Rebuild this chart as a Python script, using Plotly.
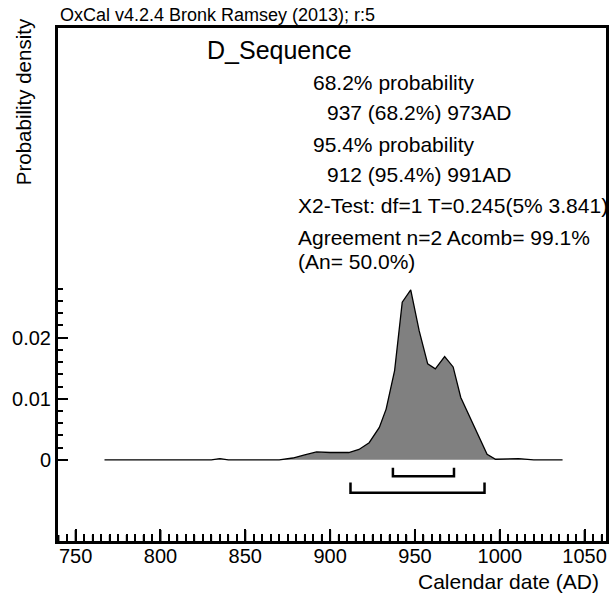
import plotly.graph_objects as go

# Posterior density for the D_Sequence model (calendar years AD)
years = [767, 830, 835, 840, 870, 878, 885, 892, 900, 911, 917, 923, 929, 933,
         938, 942.5, 947.5, 952.5, 957.5, 962, 967.5, 972.5, 977, 983, 988,
         992.5, 997.5, 1005, 1011, 1020, 1037]
density = [0, 0, 0.0002, 0, 0, 0.0003, 0.0008, 0.0013, 0.0012, 0.0012, 0.0017,
           0.0028, 0.0053, 0.0083, 0.0146, 0.0258, 0.0278, 0.0211, 0.0157,
           0.0149, 0.0169, 0.0152, 0.0102, 0.0067, 0.0037, 0.0009, 0.0001,
           0.0001, 0.0002, 0, 0]

# Highest posterior density ranges
range_68 = [937, 973]
range_95 = [912, 991]

x_ticks = [750, 800, 850, 900, 950, 1000, 1050]
x_minor = [y for y in range(740, 1065, 5) if y % 50 != 0]
y_ticks = [0, 0.01, 0.02]
y_tick_text = ["0", "0.01", "0.02"]
y_minor = [0.002 * i for i in range(1, 15) if i % 5 != 0]

FONT = "Liberation Sans, Arial, sans-serif"
L, R, T, B = 58, 4, 28, 54
W, H = 613, 595
PW, PH = W - L - R, H - T - B
X_RANGE = [739.6, 1062.6]
Y_RANGE = [-0.01328, 0.07066]
Y_PER_PX = (Y_RANGE[1] - Y_RANGE[0]) / PH


def px(x):
    return (x - L) / PW


def py(y):
    return (H - B - y) / PH


fig = go.Figure()

fig.add_trace(go.Scatter(
    x=years, y=density, mode="lines", fill="tozeroy",
    fillcolor="#808080", line=dict(color="black", width=1.3),
    hoverinfo="skip", showlegend=False))


def bracket(rng, y_bar, y_tip):
    return go.Scatter(
        x=[rng[0], rng[0], rng[1], rng[1]],
        y=[y_tip, y_bar, y_bar, y_tip],
        mode="lines", line=dict(color="black", width=2.5),
        hoverinfo="skip", showlegend=False)


fig.add_trace(bracket(range_68, -0.0027, -0.0013))
fig.add_trace(bracket(range_95, -0.0054, -0.0037))


def tick_marks(values, length_px, width):
    xs, ys = [], []
    for v in values:
        xs += [v, v, None]
        ys += [Y_RANGE[0], Y_RANGE[0] + length_px * Y_PER_PX, None]
    return go.Scatter(x=xs, y=ys, mode="lines", cliponaxis=False,
                      line=dict(color="black", width=width),
                      hoverinfo="skip", showlegend=False)


# Bottom-axis tick marks pointing up from the frame
fig.add_trace(tick_marks(x_ticks, 11, 2))
fig.add_trace(tick_marks(x_minor, 6, 1.5))

texts = [
    ("D_Sequence", 206, 50, 25),
    ("68.2% probability", 312, 82, 21),
    (f"{range_68[0]} (68.2%) {range_68[1]}AD", 326, 112, 21),
    ("95.4% probability", 312, 144, 21),
    (f"{range_95[0]} (95.4%) {range_95[1]}AD", 326, 174, 21),
    ("X2-Test: df=1 T=0.245(5% 3.841)", 297, 205, 21),
    ("Agreement n=2 Acomb= 99.1%", 297, 237, 21),
    ("(An= 50.0%)", 297, 261, 21),
]
annotations = []
for txt, x0, y0, size in texts:
    annotations.append(dict(
        text=txt, xref="paper", yref="paper", x=px(x0), y=py(y0),
        xanchor="left", yanchor="middle", showarrow=False,
        font=dict(family=FONT, size=size, color="black")))

annotations.append(dict(
    text="OxCal v4.2.4 Bronk Ramsey (2013); r:5", xref="paper", yref="paper",
    x=px(58), y=py(15), xanchor="left", yanchor="middle", showarrow=False,
    font=dict(family=FONT, size=18, color="black")))
annotations.append(dict(
    text="Probability density", xref="paper", yref="paper",
    x=px(23), y=py(102), xanchor="center", yanchor="middle", textangle=-90,
    showarrow=False, font=dict(family=FONT, size=20.5, color="black")))
annotations.append(dict(
    text="Calendar date (AD)", xref="paper", yref="paper",
    x=px(604), y=py(581), xanchor="right", yanchor="middle",
    showarrow=False, font=dict(family=FONT, size=21, color="black")))

fig.update_layout(
    width=W, height=H,
    margin=dict(l=L, r=R, t=T, b=B),
    paper_bgcolor="white", plot_bgcolor="white",
    annotations=annotations,
    xaxis=dict(
        range=X_RANGE, tickmode="array", tickvals=x_ticks,
        ticks="inside", ticklen=12, tickwidth=2, tickcolor="black",
        ticklabelstandoff=-5,
        minor=dict(tickmode="array", tickvals=x_minor, ticks="inside",
                   ticklen=7, tickwidth=1.5, tickcolor="black"),
        showline=True, linecolor="black", linewidth=3, mirror=True,
        showgrid=False, zeroline=False,
        tickfont=dict(family=FONT, size=20, color="black")),
    yaxis=dict(
        range=Y_RANGE, tickmode="array", tickvals=y_ticks,
        ticktext=y_tick_text, ticks="inside",
        ticklen=10, tickwidth=2, tickcolor="black",
        minor=dict(tickmode="array", tickvals=y_minor, ticks="inside",
                   ticklen=5, tickwidth=1.5, tickcolor="black"),
        showline=True, linecolor="black", linewidth=3, mirror=True,
        showgrid=False, zeroline=False,
        tickfont=dict(family=FONT, size=20, color="black")),
)

fig.write_html("out.html")
